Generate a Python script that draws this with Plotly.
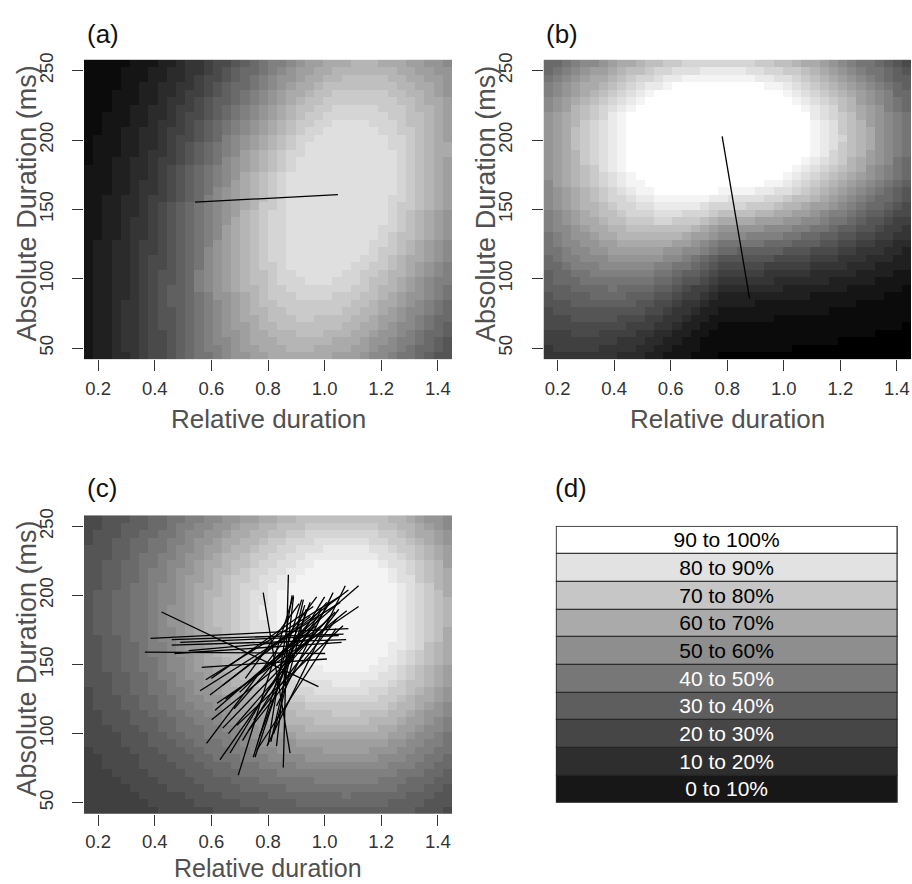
import numpy as np
import plotly.graph_objects as go

# ---------------- data ----------------
X_TICKS = [0.2, 0.4, 0.6, 0.8, 1.0, 1.2, 1.4]
Y_TICKS = [50, 100, 150, 200, 250]
X_RANGE = [0.15, 1.45]
Y_RANGE = [42, 258]

# fitted surfaces: centre, side scales, shape, skew terms
SURF_A_CENTER = [1.04, 162]
SURF_A_SCALES = [0.384, 0.43, 141, 117]   # x-left, x-right, y-low, y-up
SURF_A_SHAPE = [0.0, 0.95, 0.0, 0.88]     # rho, amplitude, floor, ceiling
SURF_A_SKEW = [0.0, 0.0011]               # lower-left widening, x-shear per ms

SURF_B_CENTER = [0.78, 202]
SURF_B_SCALES = [0.50, 0.46, 54, 60]
SURF_B_SHAPE = [0.0, 1.25, 0.0, 1.0]
SURF_B_SKEW = [90.0, 0.0]

SURF_C_CENTER = [1.09, 188]
SURF_C_SCALES = [0.485, 0.33, 83, 75]
SURF_C_SHAPE = [0.0, 0.85, 0.2, 0.95]
SURF_C_SKEW = [0.0, 0.0]

N_LEVELS = 24

# panel (a) segment
SEG_A_X = [0.542, 1.047]
SEG_A_Y = [155.2, 160.6]
# panel (b) segment
SEG_B_X = [0.782, 0.879]
SEG_B_Y = [202.7, 85.6]

# panel (c) segments: start and end points
SEG_C_X0 = [0.365, 0.385, 0.46, 0.46, 0.47, 0.49, 0.566, 0.52, 0.424,
            0.872, 0.783, 0.885, 0.89, 0.93,
            0.583, 0.63, 0.695, 0.666, 0.748, 0.796, 0.601, 0.56, 0.595, 0.613,
            0.62, 0.64, 0.66, 0.71, 0.73, 0.77, 0.81, 0.68, 0.60, 0.58, 0.70,
            0.75, 0.82, 0.83, 0.65, 0.64, 0.72, 0.69, 0.76, 0.80]
SEG_C_Y0 = [159, 169, 168, 164, 158, 166, 148, 160, 188,
            215, 202, 200, 199, 193,
            93, 81, 70, 86, 83, 91, 110, 131, 128, 117,
            122, 104, 100, 95, 102, 98, 94, 118, 140, 139, 130,
            110, 100, 120, 125, 135, 140, 106, 88, 150]
SEG_C_X1 = [1.002, 1.084, 1.067, 1.076, 1.06, 1.05, 1.008, 0.95, 0.978,
            0.854, 0.878, 0.80, 0.83, 0.754,
            0.972, 1.02, 0.89, 1.0, 0.919, 1.073, 1.078, 1.055, 1.084, 1.12,
            1.12, 1.037, 1.02, 0.99, 1.043, 0.949, 0.925, 1.008, 0.96, 1.06,
            0.98, 1.05, 0.935, 1.03, 1.0, 0.95, 0.91, 1.065, 1.04, 0.97]
SEG_C_Y1 = [158, 176, 172, 168, 166, 171, 154, 168, 134,
            75.5, 86, 92, 91, 83,
            199, 195, 200, 199, 197, 207, 189, 195, 204, 207,
            192, 188, 185, 190, 183, 195, 197, 195, 192, 200,
            185, 190, 190, 202, 180, 185, 194, 178, 176, 178]

LEGEND_LABELS = ["0 to 10%", "10 to 20%", "20 to 30%", "30 to 40%", "40 to 50%",
                 "50 to 60%", "60 to 70%", "70 to 80%", "80 to 90%", "90 to 100%"]
LEGEND_COLORS = ["#171717", "#2E2E2E", "#464646", "#5E5E5E", "#777777",
                 "#8E8E8E", "#AAAAAA", "#C6C6C6", "#E2E2E2", "#FFFFFF"]
LEGEND_TEXT_COLORS = ["white"] * 5 + ["black"] * 5

# ---------------- helpers ----------------
NX, NY = 40, 40
dx = (X_RANGE[1] - X_RANGE[0]) / NX
dy = (Y_RANGE[1] - Y_RANGE[0]) / NY
xc = np.linspace(X_RANGE[0] + dx / 2, X_RANGE[1] - dx / 2, NX)
yc = np.linspace(Y_RANGE[0] + dy / 2, Y_RANGE[1] - dy / 2, NY)
XX, YY = np.meshgrid(xc, yc)


def surface(center, scales, shape, skew):
    x0, y0 = center
    sxl, sxr, syl, syu = scales
    rho, amp, floor, ceil = shape
    widen, shear = skew
    xs = XX - shear * (YY - y0)
    syl_eff = syl + widen * np.clip(x0 - xs, 0, None)
    u = (xs - x0) / np.where(xs < x0, sxl, sxr)
    v = (YY - y0) / np.where(YY < y0, syl_eff, syu)
    q = (u ** 2 - 2 * rho * u * v + v ** 2) / (1 - rho ** 2)
    p = np.minimum(ceil, floor + amp * np.exp(-0.5 * q))
    return np.round(p * N_LEVELS) / N_LEVELS


GRAY = [[0, "rgb(0,0,0)"], [1, "rgb(255,255,255)"]]
FONT = "Liberation Sans, Arial, Helvetica, sans-serif"

fig = go.Figure()
for i, args in enumerate([(SURF_A_CENTER, SURF_A_SCALES, SURF_A_SHAPE, SURF_A_SKEW),
                          (SURF_B_CENTER, SURF_B_SCALES, SURF_B_SHAPE, SURF_B_SKEW),
                          (SURF_C_CENTER, SURF_C_SCALES, SURF_C_SHAPE, SURF_C_SKEW)]):
    ax = "" if i == 0 else str(i + 1)
    fig.add_trace(go.Heatmap(x=xc, y=yc, z=surface(*args), colorscale=GRAY,
                             zmin=0, zmax=1, showscale=False, hoverinfo="skip",
                             xaxis="x" + ax, yaxis="y" + ax))

LINE = dict(color="black", width=1.3)
fig.add_trace(go.Scatter(x=SEG_A_X, y=SEG_A_Y, mode="lines", line=LINE,
                         xaxis="x", yaxis="y", hoverinfo="skip"))
fig.add_trace(go.Scatter(x=SEG_B_X, y=SEG_B_Y, mode="lines", line=LINE,
                         xaxis="x2", yaxis="y2", hoverinfo="skip"))
cx, cy = [], []
for a, b, c_, d in zip(SEG_C_X0, SEG_C_Y0, SEG_C_X1, SEG_C_Y1):
    cx += [a, c_, None]
    cy += [b, d, None]
fig.add_trace(go.Scatter(x=cx, y=cy, mode="lines", line=LINE,
                         xaxis="x3", yaxis="y3", hoverinfo="skip"))

# legend panel (d) as stacked horizontal bars
fig.add_trace(go.Bar(y=LEGEND_LABELS, x=[1] * len(LEGEND_LABELS), orientation="h",
                     marker=dict(color=LEGEND_COLORS, line=dict(color="#222222", width=1.2)),
                     text=LEGEND_LABELS, textposition="inside", insidetextanchor="middle",
                     constraintext="none", textangle=0,
                     textfont=dict(family=FONT, size=21, color=LEGEND_TEXT_COLORS),
                     xaxis="x4", yaxis="y4", hoverinfo="skip"))

W, H = 912, 884


def domx(a, b):
    return [a / W, b / W]


def domy(top, bottom):
    return [1 - bottom / H, 1 - top / H]


def px(a):
    return a / W


def py(a):
    return 1 - a / H


TICK_FONT = dict(family=FONT, size=18.5, color="#333333")
xa = dict(range=X_RANGE, tickvals=X_TICKS, tickformat=".1f", ticks="outside", ticklen=11,
          tickwidth=1, tickcolor="#333333", showgrid=False, zeroline=False, showline=False,
          tickfont=TICK_FONT, ticklabelstandoff=2, fixedrange=True)
ya = dict(range=Y_RANGE, tickvals=Y_TICKS, ticks="outside", ticklen=11, tickwidth=1,
          tickcolor="#333333", showgrid=False, zeroline=False, showline=False, tickangle=-90,
          tickfont=TICK_FONT, ticklabelstandoff=12, fixedrange=True)

fig.update_layout(
    width=W, height=H, margin=dict(l=0, r=0, t=0, b=0),
    paper_bgcolor="white", plot_bgcolor="white", showlegend=False, bargap=0,
    xaxis=dict(xa, domain=domx(84, 452), anchor="y"),
    yaxis=dict(ya, domain=domy(53, 355), anchor="x"),
    xaxis2=dict(xa, domain=domx(543.5, 911), anchor="y2"),
    yaxis2=dict(ya, domain=domy(53, 355), anchor="x2"),
    xaxis3=dict(xa, domain=domx(84, 452), anchor="y3", ticklabelstandoff=0),
    yaxis3=dict(ya, domain=domy(512.3, 813.3), anchor="x3"),
    xaxis4=dict(domain=domx(555.7, 898.3), anchor="y4", range=[-0.003, 1.003], visible=False,
                fixedrange=True),
    yaxis4=dict(domain=domy(523, 803.3), anchor="x4", visible=False, range=[-0.53, 9.53],
                type="category", fixedrange=True),
)

ann = []
YTITLE_FONT = dict(family=FONT, size=27, color="#505050")
LABEL_FONT = dict(family=FONT, size=26, color="#111111")
for (xl, xr, yt, yb, gap, fs) in [(84, 452, 53, 355, 60, 26), (543.5, 911, 53, 355, 60, 26),
                                  (84, 452, 512.3, 813.3, 54.5, 25)]:
    ann.append(dict(text="Relative duration", x=px((xl + xr) / 2), y=py(yb + gap),
                    xref="paper", yref="paper", showarrow=False,
                    font=dict(family=FONT, size=fs, color="#505050"),
                    xanchor="center", yanchor="middle", borderpad=0))
    ann.append(dict(text="Absolute Duration (ms)", x=px(xl - 57), y=py((yt + yb) / 2 - 6),
                    xref="paper", yref="paper", showarrow=False, font=YTITLE_FONT,
                    textangle=-90, xanchor="center", yanchor="middle"))
for t, lx, ly in [("(a)", 85, 27), ("(b)", 544, 27), ("(c)", 85, 485), ("(d)", 553, 485)]:
    ann.append(dict(text=t, x=px(lx), y=py(ly), xref="paper", yref="paper",
                    showarrow=False, font=LABEL_FONT, xanchor="left", yanchor="middle"))
fig.update_layout(annotations=ann)

fig.write_html("out.html", config={"displayModeBar": False},
               post_script="document.body.style.margin='0px';document.body.style.overflow='hidden';")
